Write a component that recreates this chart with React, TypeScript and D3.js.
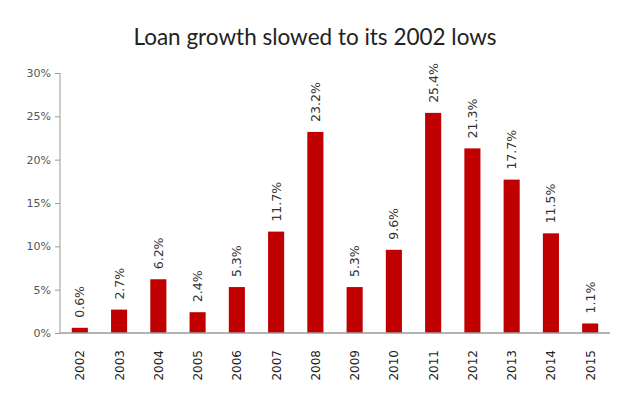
import React, { useRef, useEffect } from "react";
import * as d3 from "d3";

const years: string[] = ["2002", "2003", "2004", "2005", "2006", "2007", "2008", "2009", "2010", "2011", "2012", "2013", "2014", "2015"];
const growth: number[] = [0.6, 2.7, 6.2, 2.4, 5.3, 11.7, 23.2, 5.3, 9.6, 25.4, 21.3, 17.7, 11.5, 1.1];
const yTicks: number[] = [0, 5, 10, 15, 20, 25, 30];

const App: React.FC = () => {
  const ref = useRef<SVGSVGElement>(null);
  const width = 623;
  const height = 394;
  const margin = { top: 73, right: 13, bottom: 61, left: 60 };
  const innerWidth = width - margin.left - margin.right;
  const innerHeight = height - margin.top - margin.bottom;

  useEffect(() => {
    const svg = d3.select(ref.current);
    svg.selectAll("*").remove();

    const xScale = d3.scaleBand<string>().domain(years).range([0, innerWidth]).paddingInner(0.59).paddingOuter(0.3);
    const yScale = d3.scaleLinear().domain([0, 30]).range([innerHeight, 0]);

    svg
      .append("text")
      .attr("x", 315)
      .attr("y", 45)
      .attr("text-anchor", "middle")
      .attr("font-family", "Lato, 'Open Sans', sans-serif")
      .attr("font-size", 22.5)
      .attr("fill", "#222")
      .text("Loan growth slowed to its 2002 lows");

    const g = svg.append("g").attr("transform", `translate(${margin.left}, ${margin.top})`);

    // y axis
    const yAxis = d3
      .axisLeft(yScale)
      .tickValues(yTicks)
      .tickSize(5)
      .tickPadding(4)
      .tickFormat((d) => `${d}%`);
    const yAxisGroup = g.append("g").call(yAxis);
    yAxisGroup.select(".domain").attr("stroke", "#9a9a9a").attr("d", `M0,0V${innerHeight}`);
    yAxisGroup.selectAll(".tick line").attr("stroke", "#9a9a9a");
    yAxisGroup
      .selectAll(".tick text")
      .attr("font-family", "'DejaVu Sans', sans-serif")
      .attr("font-size", 11)
      .attr("fill", "#555");

    // bars
    g.selectAll(".bar")
      .data(growth)
      .enter()
      .append("rect")
      .attr("class", "bar")
      .attr("x", (d, i) => xScale(years[i]) || 0)
      .attr("width", xScale.bandwidth())
      .attr("y", (d) => yScale(d))
      .attr("height", (d) => innerHeight - yScale(d))
      .attr("fill", "#c00000");

    // value labels
    g.selectAll(".val")
      .data(growth)
      .enter()
      .append("text")
      .attr("class", "val")
      .attr("transform", (d, i) => `translate(${(xScale(years[i]) || 0) + xScale.bandwidth() / 2 + 4.5}, ${yScale(d) - 10}) rotate(-90)`)
      .attr("font-family", "'DejaVu Sans', sans-serif")
      .attr("font-size", 12.5)
      .attr("fill", "#333")
      .text((d) => `${d.toFixed(1)}%`);

    // x axis
    const xAxisGroup = g.append("g").attr("transform", `translate(0, ${innerHeight})`);
    xAxisGroup
      .append("line")
      .attr("x1", 0)
      .attr("x2", innerWidth)
      .attr("stroke", "#9a9a9a")
      .attr("stroke-width", 1.5);
    xAxisGroup
      .selectAll(".year")
      .data(years)
      .enter()
      .append("text")
      .attr("class", "year")
      .attr("transform", (d) => `translate(${(xScale(d) || 0) + xScale.bandwidth() / 2 + 4.5}, 17) rotate(-90)`)
      .attr("text-anchor", "end")
      .attr("font-family", "'DejaVu Sans', sans-serif")
      .attr("font-size", 12)
      .attr("fill", "#222")
      .text((d) => d);
  }, []);

  return (
    <svg ref={ref} width={width} height={height} style={{ position: "absolute", left: 0, top: 0, background: "#fff" }}></svg>
  );
};

export default App;
